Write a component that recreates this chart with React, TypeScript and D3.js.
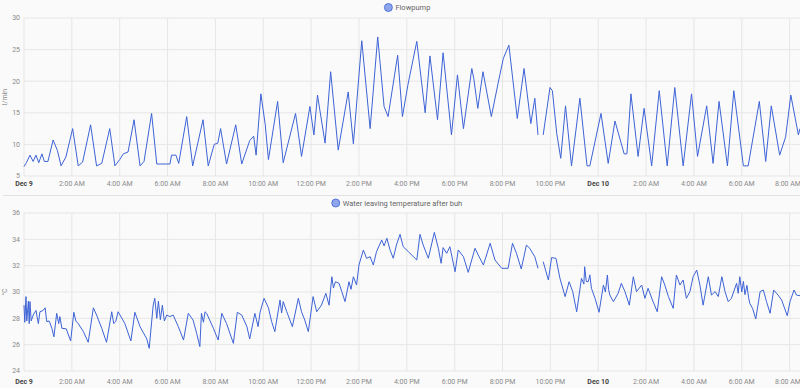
import React from 'react';
import * as d3 from 'd3';

// hours after Dec 9 00:00, value (null = gap in the recording)
const flowpump: [number, number | null][] = [
	[0.00, 6.5], [0.10, 7.1], [0.25, 8.3], [0.38, 7.3], [0.50, 8.3], [0.62, 7.1], [0.75, 8.5], [0.85, 7.3],
	[1.00, 7.3], [1.22, 10.7], [1.40, 9.0], [1.55, 6.6], [1.75, 8.0], [2.03, 12.5], [2.27, 6.6], [2.45, 7.2],
	[2.79, 13.1], [3.04, 6.6], [3.25, 7.0], [3.59, 12.5], [3.80, 6.6], [4.00, 7.6], [4.15, 8.5], [4.35, 8.8],
	[4.60, 13.9], [4.85, 6.6], [5.02, 7.3], [5.34, 14.9], [5.55, 6.9], [6.10, 6.9], [6.17, 8.3], [6.35, 8.3],
	[6.46, 7.0], [6.80, 14.4], [7.05, 6.6], [7.49, 13.9], [7.70, 6.6], [7.95, 10.0], [8.10, 10.2], [8.22, 12.5],
	[8.47, 6.9], [8.85, 13.1], [9.10, 6.9], [9.43, 10.6], [9.60, 11.3], [9.70, 8.3], [9.90, 18.0], [10.09, 13.1],
	[10.21, 7.6], [10.60, 16.8], [10.84, 7.1], [11.35, 14.9], [11.60, 8.1], [11.95, 16.0], [12.12, 11.5],
	[12.27, 17.8], [12.58, 10.2], [12.82, 21.5], [13.13, 9.1], [13.55, 18.3], [13.76, 10.1], [14.11, 26.4],
	[14.46, 12.5], [14.78, 27.0], [15.05, 16.0], [15.22, 14.4], [15.62, 24.1], [15.81, 14.4], [16.05, 19.5],
	[16.41, 26.3], [16.76, 15.0], [16.97, 24.0], [17.29, 13.9], [17.52, 24.5], [17.87, 11.5], [18.12, 21.0],
	[18.36, 12.5], [18.71, 22.0], [18.80, 20.4], [18.96, 15.7], [19.19, 21.5], [19.54, 14.4], [19.82, 19.7],
	[20.03, 23.6], [20.27, 25.7], [20.61, 14.1], [20.90, 22.0], [21.19, 13.3], [21.35, 17.3], [21.49, 11.5],
	[21.60, null], [21.70, 11.5], [21.98, 19.0], [22.09, 18.5], [22.26, 11.7], [22.43, 7.8], [22.64, 16.1],
	[22.89, 6.6], [23.23, 17.3], [23.54, 6.6], [23.65, 6.6], [24.11, 14.9], [24.42, 7.0], [24.70, 13.7],
	[25.09, 8.5], [25.20, 8.5], [25.37, 18.0], [25.67, 8.1], [25.91, 15.7], [26.23, 6.6], [26.55, 18.5],
	[26.88, 6.6], [27.20, 19.0], [27.55, 6.6], [27.90, 18.0], [28.15, 8.1], [28.53, 16.1], [28.80, 7.0],
	[29.05, 16.8], [29.40, 6.6], [29.67, 18.5], [30.06, 6.6], [30.27, 6.6], [30.73, 16.8], [31.00, 7.3],
	[31.24, 16.1], [31.59, 8.3], [31.84, 11.2], [32.05, 17.8], [32.36, 11.5], [32.43, 12.5],
];

const waterTemp: [number, number | null][] = [
	[0.00, 29.0], [0.04, 27.7], [0.08, 29.65], [0.12, 27.8], [0.18, 29.3], [0.22, 27.6], [0.25, 29.27],
	[0.30, 27.8], [0.39, 28.25], [0.50, 28.6], [0.60, 27.6], [0.67, 28.5], [0.80, 28.6], [0.88, 28.8],
	[0.95, 27.75], [1.05, 27.8], [1.16, 27.24], [1.25, 26.6], [1.37, 28.38], [1.45, 27.6], [1.50, 28.13],
	[1.58, 27.24], [1.76, 27.2], [1.95, 26.28], [2.09, 28.46], [2.17, 27.8], [2.27, 27.6], [2.48, 26.99],
	[2.69, 26.18], [2.90, 28.8], [3.04, 28.25], [3.25, 27.24], [3.45, 26.18], [3.66, 28.5], [3.75, 27.6],
	[3.84, 27.75], [3.94, 28.5], [4.22, 27.6], [4.47, 26.28], [4.64, 28.46], [4.85, 27.37], [5.13, 26.43],
	[5.24, 25.72], [5.40, 29.0], [5.47, 29.52], [5.55, 28.0], [5.62, 29.3], [5.70, 27.9], [5.78, 29.0],
	[5.86, 27.8], [5.96, 28.25], [6.10, 28.13], [6.24, 28.25], [6.45, 27.37], [6.66, 26.35], [6.87, 28.38],
	[7.07, 27.87], [7.22, 26.86], [7.35, 25.85], [7.42, 28.38], [7.50, 27.7], [7.56, 28.5], [7.63, 28.38],
	[7.91, 27.24], [8.12, 26.35], [8.26, 28.38], [8.47, 27.6], [8.75, 26.1], [8.91, 28.46], [9.10, 28.25],
	[9.31, 27.37], [9.44, 26.43], [9.65, 28.38], [9.79, 27.37], [9.86, 28.46], [10.03, 29.52], [10.21, 28.8],
	[10.35, 27.75], [10.49, 26.99], [10.70, 29.39], [10.77, 28.4], [10.84, 29.27], [10.98, 28.5], [11.22, 27.37],
	[11.46, 29.52], [11.60, 28.5], [11.74, 27.87], [11.88, 26.99], [12.09, 29.65], [12.23, 28.5], [12.44, 29.0],
	[12.61, 29.9], [12.75, 29.0], [12.86, 31.16], [12.94, 30.3], [13.02, 30.78], [13.16, 30.66], [13.28, 30.03],
	[13.41, 29.27], [13.58, 30.78], [13.66, 30.2], [13.76, 31.16], [13.90, 30.53], [14.00, 32.05], [14.18, 33.19],
	[14.32, 32.56], [14.46, 32.68], [14.60, 32.05], [14.74, 33.06], [14.95, 33.95], [15.05, 33.5], [15.16, 34.08],
	[15.30, 33.19], [15.43, 32.56], [15.57, 33.57], [15.71, 34.38], [15.85, 33.44], [16.06, 33.06], [16.41, 32.43],
	[16.55, 34.38], [16.69, 33.57], [16.90, 32.56], [17.15, 34.53], [17.32, 33.32], [17.43, 32.18], [17.52, 33.37],
	[17.66, 32.94], [17.80, 33.44], [18.01, 31.54], [18.15, 33.19], [18.36, 32.68], [18.57, 31.49], [18.85, 33.32],
	[18.99, 32.81], [19.20, 32.05], [19.48, 33.7], [19.68, 32.43], [19.96, 31.8], [20.24, 31.8], [20.41, 33.7],
	[20.59, 32.94], [20.79, 31.75], [21.00, 33.57], [21.14, 33.32], [21.35, 32.68], [21.49, 31.8], [21.60, null],
	[21.70, 32.3], [21.91, 30.91], [22.05, 32.61], [22.23, 32.56], [22.40, 31.04], [22.61, 29.65], [22.79, 30.78],
	[22.93, 30.03], [23.10, 28.5], [23.30, 31.04], [23.40, 30.6], [23.44, 31.92], [23.50, 30.8], [23.58, 30.78],
	[23.65, 31.3], [23.72, 30.28], [23.86, 29.52], [24.04, 28.46], [24.21, 30.53], [24.30, 30.0], [24.38, 31.29],
	[24.44, 30.2], [24.49, 29.77], [24.63, 29.27], [24.83, 29.9], [24.97, 30.66], [25.11, 30.03], [25.30, 29.0],
	[25.46, 31.16], [25.60, 30.03], [25.81, 30.53], [25.95, 29.52], [26.09, 30.28], [26.27, 29.39], [26.47, 28.5],
	[26.65, 31.16], [26.79, 30.53], [26.93, 29.65], [27.13, 28.76], [27.27, 31.29], [27.41, 30.53], [27.55, 30.91],
	[27.69, 29.52], [27.83, 30.03], [27.97, 31.16], [28.11, 31.67], [28.25, 30.53], [28.39, 29.0], [28.60, 31.16],
	[28.74, 29.77], [28.88, 30.03], [29.02, 29.65], [29.16, 31.16], [29.30, 30.03], [29.43, 29.27], [29.57, 29.52],
	[29.78, 30.66], [29.85, 29.9], [29.92, 31.16], [30.00, 30.0], [30.07, 30.8], [30.14, 29.8], [30.21, 30.5],
	[30.28, 29.6], [30.34, 29.14], [30.45, 28.76], [30.59, 27.95], [30.76, 30.03], [30.90, 30.15], [31.04, 29.27],
	[31.18, 28.38], [31.34, 30.15], [31.52, 29.77], [31.66, 29.39], [31.90, 28.2], [32.01, 29.27], [32.19, 30.15],
	[32.29, 29.77], [32.43, 29.72],
];

const flowTicks = [5, 10, 15, 20, 25, 30];
const tempTicks = [24, 26, 28, 30, 32, 34, 36];
const timeTickLabels = [
	'Dec 9', '2:00 AM', '4:00 AM', '6:00 AM', '8:00 AM', '10:00 AM', '12:00 PM', '2:00 PM', '4:00 PM',
	'6:00 PM', '8:00 PM', '10:00 PM', 'Dec 10', '2:00 AM', '4:00 AM', '6:00 AM', '8:00 AM',
];

const W = 800;
const H = 388;
const start = new Date(2023, 11, 9, 0, 0);
const end = d3.timeMinute.offset(start, Math.round(32.43 * 60));
const toDate = (h: number) => d3.timeMinute.offset(start, Math.round(h * 60));

const x = d3.scaleTime().domain([start, end]).range([24, W]);
const tickDates = timeTickLabels.map((_, i) => d3.timeHour.offset(start, i * 2));

const lineColor = '#3d63d6';
const font = 'Roboto, "Noto Sans", sans-serif';

type PanelProps = {
	data: [number, number | null][];
	ticks: number[];
	domain: [number, number];
	top: number;
	bottom: number;
	unit: string;
	title: string;
	legendY: number;
	labelY: number;
};

const Panel: React.FC<PanelProps> = ({ data, ticks, domain, top, bottom, unit, title, legendY, labelY }) => {
	const y = d3.scaleLinear().domain(domain).range([bottom, top]);
	const line = d3.line<[number, number | null]>()
		.defined(d => d[1] !== null)
		.x(d => x(toDate(d[0])))
		.y(d => y(d[1] as number));

	const legendWidth = title.length * 3.9 + 10;
	const lx = W / 2 - legendWidth / 2 + 9;

	return (
		<g>
			{ticks.map(t => (
				<g key={t}>
					<line x1={24} x2={W} y1={y(t)} y2={y(t)} stroke="#e6e6e6" strokeWidth={1} />
					<text x={20} y={y(t)} dy="0.35em" textAnchor="end" fontSize={7} fill="#8a8a8a">{t}</text>
				</g>
			))}
			{tickDates.map((d, i) => {
				const isDay = timeTickLabels[i].startsWith('Dec');
				// keep the last label inside the picture
				const tx = Math.min(x(d), W - 12);
				return (
					<g key={i}>
						<line x1={x(d)} x2={x(d)} y1={top} y2={bottom} stroke="#e6e6e6" strokeWidth={1} />
						<text
							x={tx} y={labelY} textAnchor="middle" fontSize={7}
							fill={isDay ? '#444' : '#8a8a8a'}
							fontWeight={isDay ? 700 : 400}
						>{timeTickLabels[i]}</text>
					</g>
				);
			})}
			<text
				transform={`translate(7, ${(top + bottom) / 2}) rotate(-90)`}
				textAnchor="middle" fontSize={7} fill="#8a8a8a"
			>{unit}</text>
			<path d={line(data) ?? ''} fill="none" stroke={lineColor} strokeWidth={1} strokeLinejoin="round" />
			<circle cx={lx} cy={legendY} r={4} fill="#8ea5ec" stroke={lineColor} strokeWidth={0.8} />
			<text x={lx + 7} y={legendY} dy="0.35em" fontSize={7.5} fill="#666">{title}</text>
		</g>
	);
};

export default function App() {
	return (
		<div style={{ position: 'fixed', left: 0, top: 0 }}>
			<svg width={W} height={H} style={{ display: 'block', background: '#fafafa', fontFamily: font }}>
				<Panel
					data={flowpump} ticks={flowTicks} domain={[5, 30]} top={18} bottom={176}
					unit="l/min" title="Flowpump" legendY={7.5} labelY={185.5}
				/>
				<line x1={3} x2={W} y1={195.5} y2={195.5} stroke="#e2e2e2" strokeWidth={1} />
				<Panel
					data={waterTemp} ticks={tempTicks} domain={[24, 36]} top={213} bottom={371}
					unit="°C" title="Water leaving temperature after buh" legendY={203} labelY={383.5}
				/>
			</svg>
		</div>
	);
}
